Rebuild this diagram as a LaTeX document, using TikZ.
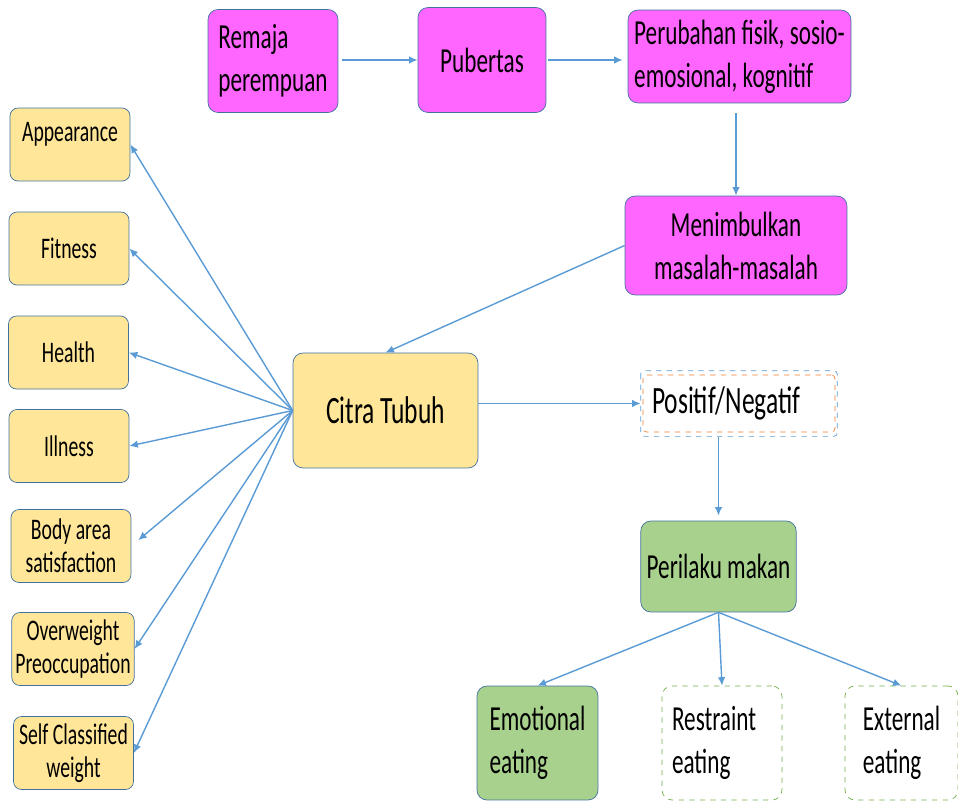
\documentclass[tikz,border=0pt]{standalone}
\usepackage{fontspec}
\setmainfont{Carlito}[FakeStretch=0.66]
\usetikzlibrary{arrows.meta}
\definecolor{boxpink}{HTML}{FF66FF}
\definecolor{boxyellow}{HTML}{FFE699}
\definecolor{boxgreen}{HTML}{A9D18E}
\definecolor{edgeblue}{HTML}{41719C}
\definecolor{arrowblue}{HTML}{5B9BD5}
\definecolor{dashgreen}{HTML}{70AD47}
\definecolor{dashorange}{HTML}{ED7D31}

\begin{document}
\begin{tikzpicture}[x = 0.02cm, y = -0.02cm,
    pinkbox/.style = {draw = edgeblue, fill = boxpink, rounded corners = 0.2cm, align = left, font = \fontsize{20}{24.5}\selectfont},
    yellowbox/.style = {draw = edgeblue, fill = boxyellow, rounded corners = 0.2cm, align = center},
    sidebox/.style = {draw = edgeblue, fill = boxyellow, rounded corners = 0.16cm, minimum width = 2.4cm, minimum height = 1.46cm, inner xsep = 2pt, align = center, font = \fontsize{17}{19}\selectfont},
    greenbox/.style = {draw = edgeblue, fill = boxgreen, rounded corners = 0.2cm, align = left, font = \fontsize{20}{24.5}\selectfont},
    eatbox/.style = {draw = dashgreen, dashed, rounded corners = 0.2cm, align = left, font = \fontsize{20}{24.5}\selectfont},
    arr/.style = {-{Latex[length = 1.7mm, width = 1.5mm]}, line width = 0.8pt, arrowblue}]
  \useasboundingbox (0, 0) rectangle (958, 802);
  % top row
  \node [pinkbox, minimum width = 2.6cm, minimum height = 2.06cm] (remaja) at (273, 61) {Remaja\\perempuan};
  \node [pinkbox, minimum width = 2.56cm, minimum height = 2.1cm] (pubertas) at (482, 60) {Pubertas};
  \node [pinkbox, minimum width = 4.46cm, minimum height = 1.86cm] (perubahan) at (739.5, 56.5) {Perubahan fisik, sosio-\\emosional, kognitif};
  \node [pinkbox, minimum width = 4.44cm, minimum height = 1.98cm, align = center] (masalah) at (736, 245.5) {Menimbulkan\\masalah-masalah};
  \node [yellowbox, minimum width = 3.7cm, minimum height = 2.3cm, font = \fontsize{22}{26}\selectfont] (citra) at (385.5, 410.5) {Citra Tubuh};
  % left column
  \node [sidebox, text depth = 0.5cm] (appearance) at (70, 144.5) {Appearance};
  \node [sidebox] (fitness) at (69, 248.5) {Fitness};
  \node [sidebox] (health) at (68.5, 352.5) {Health};
  \node [sidebox] (illness) at (69, 446) {Illness};
  \node [sidebox] (bodyarea) at (71, 546) {Body area\\satisfaction};
  \node [sidebox] (overweight) at (73, 649) {Overweight\\Preoccupation};
  \node [sidebox] (selfweight) at (73.5, 753) {Self Classified\\weight};
  % right side
  \node [draw = dashorange, dashed, rounded corners = 2pt, minimum height = 1.14cm, inner xsep = 0.18cm, text width = 3.48cm, align = left, font = \fontsize{22}{26}\selectfont] (posneg) at (739, 403.5) {Positif/Negatif};
  \draw [dashed, arrowblue, rounded corners = 2pt] ([shift = {(-2, -4)}]posneg.north west) rectangle ([shift = {(2, 4)}]posneg.south east);
  \node [greenbox, minimum width = 3.1cm, minimum height = 1.82cm] (perilaku) at (718.5, 566.5) {Perilaku makan};
  \node [greenbox, minimum width = 2.42cm, minimum height = 2.28cm] (emotional) at (537.5, 743) {Emotional\\eating};
  \node [eatbox, minimum height = 2.28cm, inner xsep = 0.2cm, text width = 2cm] (restraint) at (722, 743) {Restraint\\eating};
  \node [eatbox, minimum width = 2.26cm, minimum height = 2.28cm] (external) at (901.5, 743) {External\\eating};

  \draw [arr, shorten < = 0.08cm] (remaja.east |- pubertas.west) -- (pubertas.west);
  \draw [arr, shorten < = 0.04cm, shorten > = 0.1cm] (pubertas.east) -- (pubertas.east -| perubahan.west);
  \draw [arr, shorten < = 0.2cm] (perubahan.south -| masalah.north) -- (masalah.north);
  \draw [arr] (masalah.west) -- (citra.north);
  \draw [arr] (citra.west) -- (appearance.east);
  \draw [arr] (citra.west) -- (fitness.east);
  \draw [arr] (citra.west) -- (health.east);
  \draw [arr] (citra.west) -- (illness.east);
  \draw [arr, shorten > = 0.18cm] (citra.west) -- (bodyarea.east);
  \draw [arr] (citra.west) -- (overweight.east);
  \draw [arr] (citra.west) -- (selfweight.east);
  \draw [arr, shorten > = 0.04cm] (citra.east |- posneg.west) -- (posneg.west);
  \draw [arr, shorten < = 0.1cm, shorten > = 0.1cm] (posneg.south -| perilaku.north) -- (perilaku.north);
  \draw [arr] (perilaku.south) -- (emotional.north);
  \draw [arr] (perilaku.south) -- (restraint.north);
  \draw [arr] (perilaku.south) -- (external.north);
\end{tikzpicture}
\end{document}
